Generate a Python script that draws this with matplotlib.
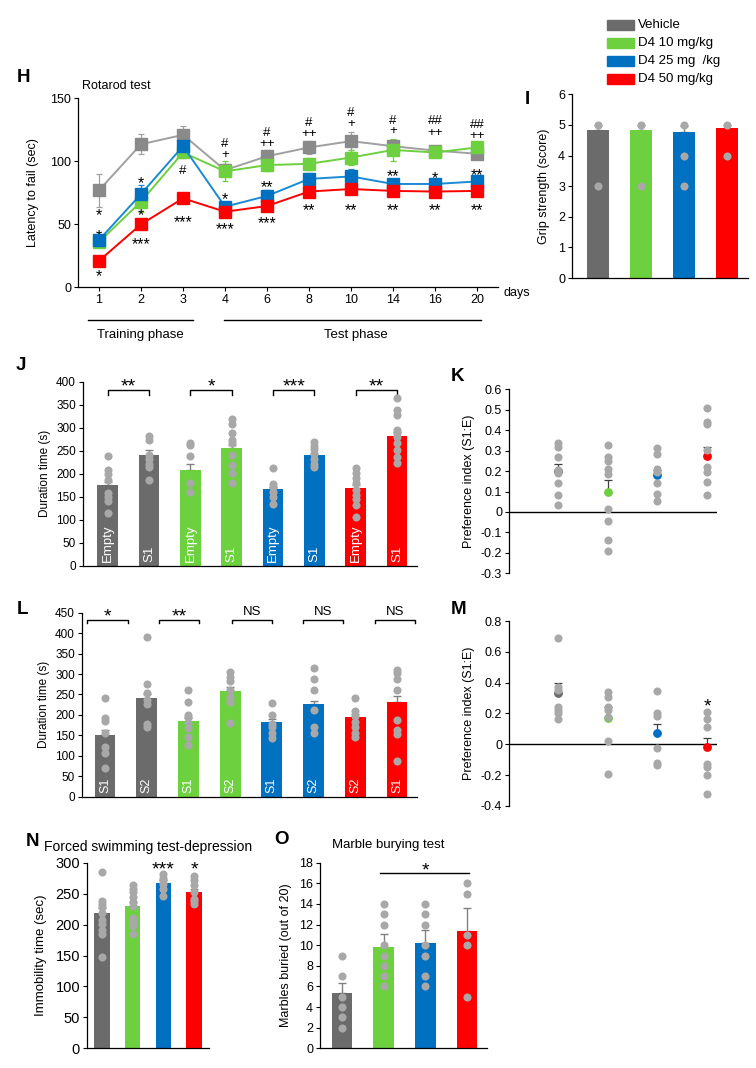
import matplotlib
matplotlib.use('Agg')
import matplotlib.pyplot as plt
import numpy as np
from matplotlib.patches import Rectangle

plt.rcParams['font.family'] = ['Liberation Sans', 'DejaVu Sans']
plt.rcParams['font.size'] = 8

# ---------------- colours ----------------
VEH = '#6b6b6b'
GREEN = '#6dd03f'
BLUE = '#0070c0'
RED = '#ff0000'
DOT = '#a8a8a8'
ERR = '#808080'
group_colors = [VEH, GREEN, BLUE, RED]
group_names = ['Vehicle', 'D4 10 mg/kg', 'D4 25 mg  /kg', 'D4 50 mg/kg']

# ---------------- H: rotarod ----------------
days = ['1', '2', '3', '4', '6', '8', '10', '14', '16', '20']
h_vehicle = [77, 113.5, 121, 93, 104, 111, 116, 112, 108.5, 106]
h_vehicle_sem = [13, 8, 7, 5, 5, 5, 7, 5, 4, 3]
h_d10 = [36, 68, 107, 92, 97, 98, 103, 109, 107, 111]
h_d10_sem = [3, 8, 4, 8, 5, 5, 6, 9, 3, 3]
h_d25 = [37.5, 74, 112, 64, 72.5, 86, 88, 82, 82, 84]
h_d25_sem = [3, 7, 5, 4, 5, 5, 6, 3, 3, 3]
h_d50 = [21, 50, 70.6, 60, 64.5, 76, 78, 76.5, 76, 76.5]
h_d50_sem = [2, 3, 3, 3, 4, 4, 3, 3, 3, 3]
h_marks = [
    (0, 61, '*'), (0, 44, '*'), (0, 12, '*'),
    (1, 86, '*'), (1, 69, '*'), (1, 61, '*'), (1, 37.5, '***'),
    (2, 94, '#'), (2, 55, '***'),
    (3, 115, '#'), (3, 106, '+'), (3, 73, '*'), (3, 49.5, '***'),
    (4, 124, '#'), (4, 115, '++'), (4, 82.5, '**'), (4, 54, '***'),
    (5, 131.5, '#'), (5, 123, '++'), (5, 86, '*'), (5, 64.5, '**'),
    (6, 139.5, '#'), (6, 130.7, '+'), (6, 88, '*'), (6, 64.5, '**'),
    (7, 133, '#'), (7, 125, '+'), (7, 92, '**'), (7, 64.5, '**'),
    (8, 133, '##'), (8, 123.5, '++'), (8, 89.7, '*'), (8, 64.5, '**'),
    (9, 130, '##'), (9, 121.7, '++'), (9, 92.6, '**'), (9, 64.5, '**'),
]

# ---------------- I: grip strength ----------------
i_means = [4.83, 4.83, 4.77, 4.9]
i_sems = [0.17, 0.17, 0.2, 0.1]
i_points = [[5, 3], [5, 3], [5, 4, 3], [5, 4]]

# ---------------- J: sociability duration ----------------
j_labels = ['Empty', 'S1', 'Empty', 'S1', 'Empty', 'S1', 'Empty', 'S1']
j_means = [174.6, 241, 207, 255, 167, 241, 169, 283]
j_sems = [8, 11, 14, 8, 5, 5, 6, 8]
j_points = [
    [239, 208, 199, 186, 157, 150, 141, 115],
    [282, 273, 240, 233, 222, 214, 186],
    [266, 262, 238, 179, 161],
    [318, 309, 289, 273, 266, 240, 219, 202, 179],
    [212, 178, 172, 161, 150, 135],
    [269, 260, 253, 243, 231, 222, 214],
    [212, 201, 190, 179, 164, 154, 146, 132, 106],
    [364, 338, 327, 296, 288, 280, 266, 251, 237, 224],
]
j_sig = ['**', '*', '***', '**']

# ---------------- K: preference index (sociability) ----------------
k_means = [0.2, 0.099, 0.183, 0.274]
k_sems = [0.033, 0.058, 0.02, 0.045]
k_points = [
    [0.336, 0.32, 0.27, 0.205, 0.192, 0.143, 0.083, 0.034],
    [0.328, 0.27, 0.25, 0.209, 0.186, 0.013, -0.042, -0.137, -0.189],
    [0.311, 0.284, 0.209, 0.197, 0.143, 0.088, 0.052],
    [0.507, 0.442, 0.43, 0.303, 0.218, 0.197, 0.147, 0.085],
]

# ---------------- L: social novelty duration ----------------
l_labels = ['S1', 'S2', 'S1', 'S2', 'S1', 'S2', 'S2', 'S1']
l_means = [151.6, 242, 185, 258, 183, 226, 196, 231]
l_sems = [12, 10, 8, 10, 8, 8, 6, 15]
l_points = [
    [242, 192, 185, 155, 121, 106, 69],
    [390, 276, 253, 236, 227, 179, 170],
    [262, 232, 201, 194, 181, 169, 147, 126],
    [306, 293, 284, 261, 243, 232, 181],
    [228, 200, 179, 171, 155, 143],
    [314, 289, 261, 212, 171, 157],
    [242, 210, 197, 183, 171, 157, 147],
    [310, 303, 287, 262, 187, 163, 153, 88],
]
l_sig = ['*', '**', 'NS', 'NS', 'NS']
l_bracket_spans = [(-0.43, 0.55), (1.29, 2.25), (3.05, 4.01), (4.75, 5.71), (6.47, 7.43)]

# ---------------- M: preference index (novelty) ----------------
m_means = [0.335, 0.17, 0.075, -0.015]
m_sems = [0.065, 0.07, 0.06, 0.058]
m_points = [
    [0.69, 0.375, 0.355, 0.245, 0.225, 0.2, 0.165],
    [0.34, 0.31, 0.24, 0.223, 0.18, 0.02, -0.19],
    [0.346, 0.2, 0.184, -0.026, -0.12, -0.134],
    [0.21, 0.162, 0.11, -0.13, -0.145, -0.2, -0.324],
]

# ---------------- N: forced swimming ----------------
n_means = [218, 230, 267.6, 253]
n_sems = [9, 7, 4, 5]
n_points = [
    [285, 238.5, 233, 228, 219, 208, 201, 191, 185, 148],
    [264, 257, 253, 245, 237, 230, 210, 205, 197, 185],
    [282, 276, 272, 265, 258, 246],
    [279, 272, 264, 253, 242, 238, 233],
]
n_sig = ['', '', '***', '*']

# ---------------- O: marble burying ----------------
o_means = [5.33, 9.86, 10.18, 11.4]
o_sems = [1.04, 1.2, 1.3, 2.2]
o_points = [
    [9, 7, 5, 4, 3, 2],
    [14, 13, 12, 10, 9, 8, 7, 6],
    [14, 13, 12, 10, 9, 7, 6],
    [16, 15, 11, 10, 5],
]

# ======================================================
W, H = 756, 1068
fig = plt.figure(figsize=(W / 100, H / 100), dpi=100)


def axes_px(x0, x1, ytop, ybot):
    return fig.add_axes([x0 / W, 1 - ybot / H, (x1 - x0) / W, (ybot - ytop) / H])


def style(ax, fs):
    ax.spines['top'].set_visible(False)
    ax.spines['right'].set_visible(False)
    for s in ('left', 'bottom'):
        ax.spines[s].set_linewidth(0.9)
    ax.tick_params(axis='both', direction='out', length=3, width=0.8, labelsize=fs, pad=2)


def fmt_num(v):
    if abs(v) < 1e-9:
        return '0'
    return '%.1f' % v


GLYPH_FRAC = {'*': 0.58, '#': 0.36, '+': 0.35}


def mark(ax, x, y, s, fs):
    frac = GLYPH_FRAC.get(s[0], 0.36)
    ax.annotate(s, (x, y), xytext=(0, -frac * fs), textcoords='offset points',
                ha='center', va='baseline', fontsize=fs, annotation_clip=False)


def panel_letter(x, y, s):
    fig.text(x / W, 1 - y / H, s, fontsize=13.5, fontweight='bold', ha='left', va='center')


def bar_panel(ax, means, sems, points, colors, width):
    x = np.arange(len(means))
    ax.bar(x, means, width=width, color=colors, zorder=2)
    ax.errorbar(x, means, yerr=[np.zeros(len(sems)), sems], fmt='none', ecolor=ERR,
                elinewidth=1, capsize=3, capthick=1, zorder=1.5)
    for xi, p in zip(x, points):
        ax.scatter(np.full(len(p), xi), p, s=34, color=DOT, zorder=3, linewidths=0)
    ax.set_xticks([])
    return x


def pref_panel(ax, means, sems, points, ylim, yticks):
    x = np.arange(len(means))
    for xi, m, e, c in zip(x, means, sems, group_colors):
        ax.errorbar([xi], [m], yerr=[[0], [e]], fmt='none', ecolor='#404040',
                    elinewidth=0.9, capsize=3, capthick=0.9, zorder=2)
        ax.scatter([xi], [m], s=40, color=c, zorder=3, linewidths=0)
    for xi, p in zip(x, points):
        ax.scatter(np.full(len(p), xi), p, s=34, color=DOT, zorder=4, linewidths=0)
    ax.set_xlim(-0.986, 3.2)
    ax.set_ylim(*ylim)
    ax.set_yticks(yticks)
    ax.set_yticklabels([fmt_num(v) for v in yticks])
    ax.spines['bottom'].set_visible(False)
    ax.axhline(0, color='black', lw=1, zorder=1)
    ax.set_xticks([])
    ax.set_ylabel('Preference index (S1:E)', fontsize=9, labelpad=4)


# ---------------- H ----------------
axH = axes_px(78, 498, 98.3, 287.3)
style(axH, 9)
xh = np.arange(len(days))
series = [
    (h_vehicle, h_vehicle_sem, '#a0a0a0', '#8a8a8a'),
    (h_d10, h_d10_sem, GREEN, GREEN),
    (h_d25, h_d25_sem, '#1a8ad4', BLUE),
    (h_d50, h_d50_sem, RED, RED),
]
for k, (vals, sem, lc, mc) in enumerate(series):
    axH.errorbar(xh, vals, yerr=sem, fmt='none', ecolor=lc, elinewidth=0.9, capsize=2.5,
                 capthick=0.9, zorder=2 + k * 0.1)
    axH.plot(xh, vals, color=lc, lw=1.4, marker='s', markersize=9, markerfacecolor=mc,
             markeredgecolor=mc, zorder=3 + k * 0.1)
for (xi, yi, s) in h_marks:
    mark(axH, xi, yi, s, 11.5 if s[0] == '*' else 9.5)
axH.set_xlim(-0.5, 9.5)
axH.set_ylim(0, 150)
axH.set_yticks([0, 50, 100, 150])
axH.set_xticks(xh)
axH.set_xticklabels(days)
axH.set_ylabel('Latency to fail (sec)', fontsize=9, labelpad=8)
axH.text(0.01, 1.065, 'Rotarod test', transform=axH.transAxes, fontsize=9, ha='left', va='center')
trH = axH.get_xaxis_transform()
axH.plot([-0.26, 2.24], [-0.173, -0.173], color='black', lw=1, transform=trH, clip_on=False)
axH.plot([2.98, 9.1], [-0.173, -0.173], color='black', lw=1, transform=trH, clip_on=False)
axH.text(0.99, -0.255, 'Training phase', transform=trH, fontsize=9.5, ha='center', va='center')
axH.text(6.12, -0.255, 'Test phase', transform=trH, fontsize=9.5, ha='center', va='center')
fig.text(503 / W, 1 - 293 / H, 'days', fontsize=9, ha='left', va='center')
panel_letter(17, 78, 'H')

# ---------------- legend ----------------
for r, (c, name) in enumerate(zip(group_colors, group_names)):
    yc = 25 + 18 * r
    fig.add_artist(Rectangle((607 / W, 1 - (yc + 5) / H), 27 / W, 10 / H, color=c,
                             transform=fig.transFigure))
    fig.text(638 / W, 1 - yc / H, name, fontsize=9.5, ha='left', va='center')

# ---------------- I ----------------
axI = axes_px(572, 748, 94.3, 278)
style(axI, 9)
bar_panel(axI, i_means, i_sems, i_points, group_colors, 0.51)
axI.set_xlim(-0.6, 3.49)
axI.set_ylim(0, 6)
axI.set_yticks(range(0, 7))
axI.set_ylabel('Grip strength (score)', fontsize=9, labelpad=6)
panel_letter(525, 100, 'I')

# ---------------- J ----------------
axJ = axes_px(83, 417, 381.7, 565.7)
style(axJ, 8.5)
j_colors = [c for c in group_colors for _ in range(2)]
xj = bar_panel(axJ, j_means, j_sems, j_points, j_colors, 0.5)
for xi, lab in zip(xj, j_labels):
    axJ.text(xi, 8, lab, rotation=90, color='white', fontsize=9.5, ha='center', va='bottom', zorder=5)
for g, s in enumerate(j_sig):
    a, b = 2 * g, 2 * g + 1
    axJ.plot([a, a, b, b], [372, 382, 382, 372], color='black', lw=1, clip_on=False)
    mark(axJ, (a + b) / 2, 403, s, 14)
axJ.set_xlim(-0.6, 7.48)
axJ.set_ylim(0, 400)
axJ.set_yticks(range(0, 401, 50))
axJ.set_ylabel('Duration time (s)', fontsize=8.5, labelpad=4)
panel_letter(16, 365, 'J')

# ---------------- K ----------------
axK = axes_px(509, 717, 389.3, 573.3)
style(axK, 9)
pref_panel(axK, k_means, k_sems, k_points, (-0.3, 0.6), np.round(np.arange(-0.3, 0.61, 0.1), 1))
panel_letter(451, 377, 'K')

# ---------------- L ----------------
axL = axes_px(82, 417, 612.7, 796.7)
style(axL, 8.5)
l_colors = [c for c in group_colors for _ in range(2)]
xl = bar_panel(axL, l_means, l_sems, l_points, l_colors, 0.5)
for xi, lab in zip(xl, l_labels):
    axL.text(xi, 8, lab, rotation=90, color='white', fontsize=9, ha='center', va='bottom', zorder=5)
for (a, b), s in zip(l_bracket_spans, l_sig):
    axL.plot([a, a, b, b], [424, 432, 432, 424], color='black', lw=1, clip_on=False)
    if s == 'NS':
        mark(axL, (a + b) / 2, 456, s, 9.5)
    else:
        mark(axL, (a + b) / 2, 456, s, 14)
axL.set_xlim(-0.55, 7.48)
axL.set_ylim(0, 450)
axL.set_yticks(range(0, 451, 50))
axL.set_ylabel('Duration time (s)', fontsize=8.5, labelpad=4)
panel_letter(17, 610, 'L')

# ---------------- M ----------------
axM = axes_px(509, 717, 621, 806)
style(axM, 9)
pref_panel(axM, m_means, m_sems, m_points, (-0.4, 0.8), np.round(np.arange(-0.4, 0.81, 0.2), 1))
mark(axM, 3, 0.288, '*', 14)
panel_letter(451, 610, 'M')

# ---------------- N ----------------
axN = axes_px(87, 209, 862.7, 1048.3)
style(axN, 10.5)
xn = bar_panel(axN, n_means, n_sems, n_points, group_colors, 0.51)
for xi, s in zip(xn, n_sig):
    if s:
        mark(axN, xi, 299, s, 14)
axN.set_xlim(-0.49, 3.49)
axN.set_ylim(0, 300)
axN.set_yticks(range(0, 301, 50))
axN.set_ylabel('Immobility time (sec)', fontsize=9.5, labelpad=6)
axN.text(0.5, 1.085, 'Forced swimming test-depression', transform=axN.transAxes,
         fontsize=10, ha='center', va='center')
panel_letter(26, 842, 'N')

# ---------------- O ----------------
axO = axes_px(320, 487, 862.7, 1048.3)
style(axO, 9)
xo = bar_panel(axO, o_means, o_sems, o_points, group_colors, 0.5)
axO.plot([0.9, 3.05], [17.03, 17.03], color='black', lw=1, clip_on=False)
mark(axO, 2.0, 17.9, '*', 14)
axO.set_xlim(-0.53, 3.48)
axO.set_ylim(0, 18)
axO.set_yticks(range(0, 19, 2))
axO.set_ylabel('Marbles buried (out of 20)', fontsize=9, labelpad=5)
axO.text(0.41, 1.095, 'Marble burying test', transform=axO.transAxes,
         fontsize=9.5, ha='center', va='center')
panel_letter(274, 840, 'O')

fig.savefig('out.png', dpi=100)
